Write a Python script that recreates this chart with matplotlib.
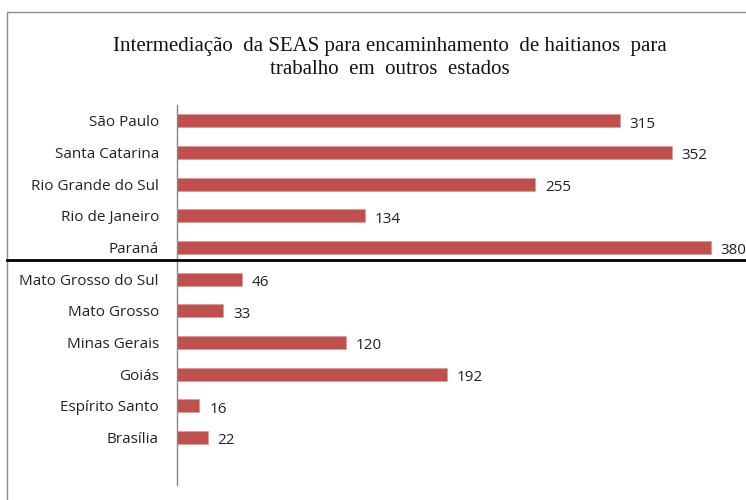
import matplotlib

matplotlib.use("Agg")
import matplotlib.pyplot as plt
from matplotlib.lines import Line2D
from matplotlib.patches import Rectangle

TITLE = "Intermediação  da SEAS para encaminhamento  de haitianos  para\ntrabalho  em  outros  estados"

# bottom to top, as the chart is drawn
states = [
    "Brasília",
    "Espírito Santo",
    "Goiás",
    "Minas Gerais",
    "Mato Grosso",
    "Mato Grosso do Sul",
    "Paraná",
    "Rio de Janeiro",
    "Rio Grande do Sul",
    "Santa Catarina",
    "São Paulo",
]
counts = [22, 16, 192, 120, 33, 46, 380, 134, 255, 352, 315]

BAR_COLOR = "#C0504D"
LABEL_FONT = ["Open Sans", "DejaVu Sans"]


def main() -> None:
    fig = plt.figure(figsize=(7.46, 5.0), dpi=100)
    W, H = 746, 500

    # outer chart frame (only left/top visible in the crop)
    fig.patches.append(
        Rectangle((7 / W, -0.05), 1.2, 1 - 12 / H + 0.05, transform=fig.transFigure,
                  fill=False, edgecolor="#8c8c8c", linewidth=1.0)
    )

    ax = fig.add_axes([177 / W, 1 - 485 / H, (W - 177) / W, 380 / H])
    y = list(range(len(states)))
    ax.barh(y, counts, height=0.42, color=BAR_COLOR, edgecolor="#d99694", linewidth=0.4)
    ax.set_ylim(-1.5, len(states) - 0.5)
    ax.set_xlim(0, (W - 177) / 1.405)

    for yi, v in zip(y, counts):
        ax.annotate(str(v), (v, yi), xytext=(7, -2.5), textcoords="offset points",
                    va="center", ha="left", fontsize=11, color="#222222", family=LABEL_FONT)

    ax.set_yticks(y)
    ax.set_yticklabels(states, fontsize=11, color="#222222", family=LABEL_FONT)
    ax.tick_params(axis="y", length=0, pad=13)
    ax.set_xticks([])
    for side in ("top", "right", "bottom"):
        ax.spines[side].set_visible(False)
    ax.spines["left"].set_color("#868686")
    ax.spines["left"].set_linewidth(1.0)

    fig.text(390 / W, 1 - 58 / H, TITLE, ha="center", va="center", fontsize=15,
             family="Liberation Serif", color="#111111", linespacing=1.25)

    # black separator line across the chart
    fig.lines.append(Line2D([7 / W, 1.0], [1 - 260 / H, 1 - 260 / H], transform=fig.transFigure,
                            color="black", linewidth=2.0))

    fig.savefig("out.png", dpi=100)
    plt.close(fig)


if __name__ == "__main__":
    main()
